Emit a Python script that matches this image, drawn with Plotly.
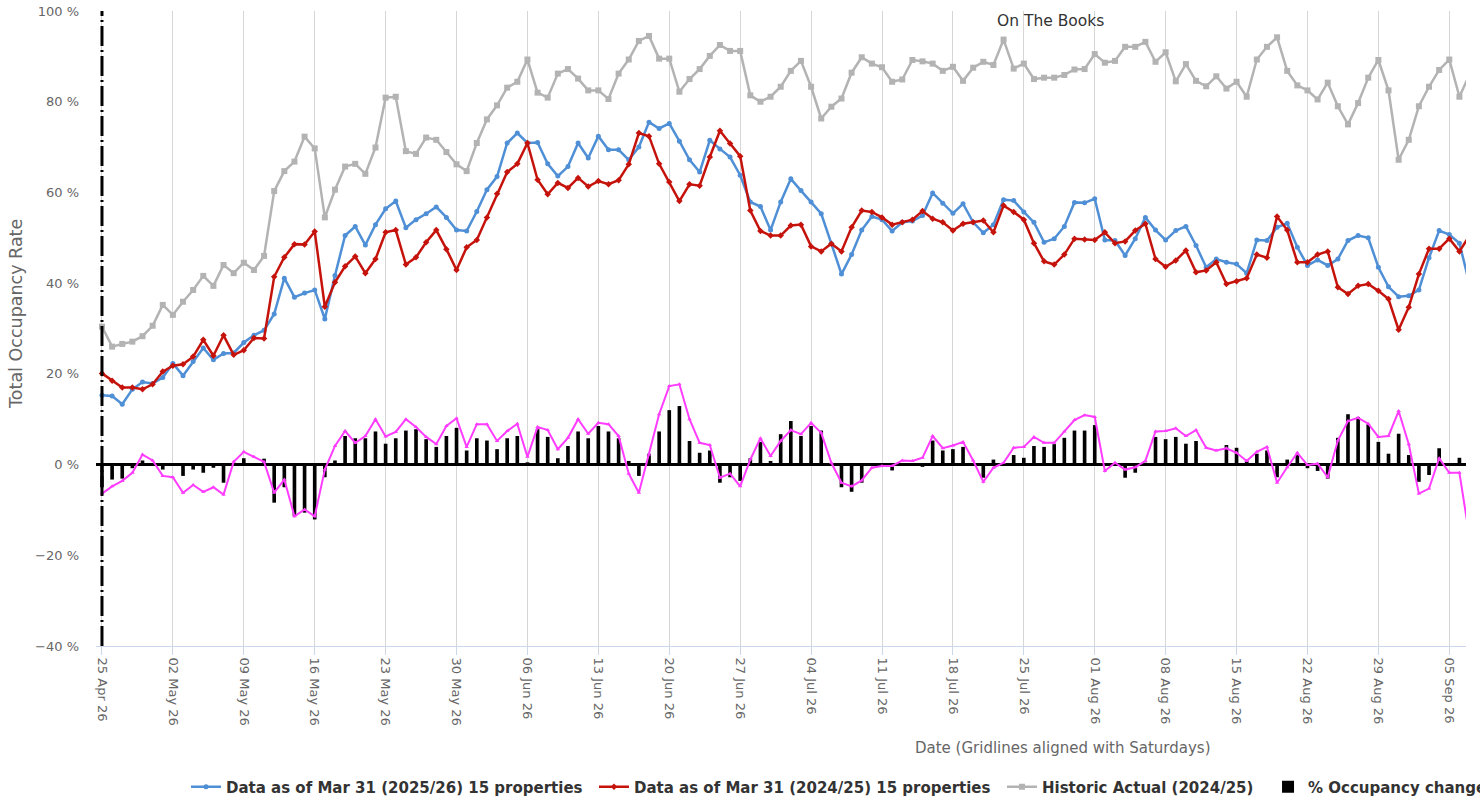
import plotly.graph_objects as go
import pandas as pd

# ---- data ----
start_date = "2026-04-25"
n_days = 136
dates = pd.date_range(start_date, periods=n_days, freq="D")

occ_2025_26 = [
    15.3, 15.1, 13.3, 16.6, 18.2, 17.9, 19.2, 22.3, 19.6, 22.7,
    25.7, 23.1, 24.5, 24.6, 26.9, 28.5, 29.6, 33.2, 41.1, 36.9,
    37.8, 38.5, 32.1, 41.7, 50.5, 52.5, 48.4, 52.9, 56.4, 58.1,
    52.2, 54.0, 55.3, 56.8, 54.5, 51.7, 51.5, 55.8, 60.6, 63.5,
    70.9, 73.1, 70.9, 71.0, 66.3, 63.6, 65.7, 70.9, 67.6, 72.4,
    69.4, 69.4, 67.2, 70.0, 75.5, 74.1, 75.2, 71.3, 67.2, 64.5,
    71.5, 69.6, 67.8, 63.8, 57.9, 56.9, 51.7, 57.9, 63.0, 60.4,
    57.9, 55.3, 48.7, 42.0, 46.3, 51.7, 54.7, 54.0, 51.5, 53.4,
    53.7, 54.9, 59.9, 57.6, 55.4, 57.5, 53.4, 51.1, 52.9, 58.4,
    58.2, 55.7, 53.4, 49.0, 49.8, 52.5, 57.8, 57.7, 58.6, 49.5,
    49.4, 46.1, 49.8, 54.5, 51.7, 49.5, 51.6, 52.5, 48.3, 43.5,
    45.3, 44.6, 44.2, 42.2, 49.5, 49.4, 52.3, 53.2, 47.9, 43.9,
    45.1, 43.9, 45.3, 49.4, 50.5, 50.0, 43.5, 39.2, 37.0, 37.2,
    38.5, 45.6, 51.6, 50.7, 48.8, 39.8,
]

occ_2024_25 = [
    20.1, 18.5, 17.0, 17.0, 16.6, 17.7, 20.5, 21.8, 22.1, 23.8,
    27.5, 24.0, 28.5, 24.2, 25.2, 27.9, 27.8, 41.4, 45.7, 48.6,
    48.5, 51.4, 34.8, 40.2, 43.7, 45.9, 42.2, 45.3, 51.2, 51.7,
    44.1, 45.7, 49.0, 51.7, 47.5, 42.9, 47.9, 49.5, 54.5, 59.7,
    64.5, 66.3, 70.9, 62.8, 59.6, 62.1, 61.0, 63.2, 61.3, 62.5,
    61.8, 62.7, 66.2, 73.1, 72.4, 66.3, 62.3, 58.1, 61.8, 61.5,
    67.8, 73.6, 70.8, 68.0, 56.0, 51.5, 50.5, 50.5, 52.7, 52.9,
    48.1, 47.0, 48.7, 47.0, 52.3, 56.0, 55.7, 54.5, 52.9, 53.4,
    54.0, 55.9, 54.2, 53.4, 51.6, 53.1, 53.4, 53.8, 51.2, 57.1,
    55.7, 54.0, 48.8, 44.8, 44.1, 46.3, 49.8, 49.6, 49.5, 51.2,
    48.8, 49.2, 51.6, 53.1, 45.3, 43.6, 45.0, 47.2, 42.4, 42.8,
    44.6, 39.8, 40.4, 41.1, 46.3, 45.6, 54.7, 51.7, 44.6, 44.6,
    46.3, 47.0, 39.1, 37.6, 39.4, 39.8, 38.3, 36.5, 29.7, 34.7,
    42.0, 47.6, 47.6, 49.8, 47.0, 50.5,
]

historic_2024_25 = [
    30.4, 26.0, 26.6, 27.1, 28.3, 30.6, 35.2, 33.0, 35.9, 38.5,
    41.6, 39.4, 44.0, 42.2, 44.5, 42.9, 46.0, 60.3, 64.7, 66.8,
    72.3, 69.7, 54.5, 60.6, 65.7, 66.3, 64.1, 69.9, 80.9, 81.1,
    69.1, 68.5, 72.1, 71.6, 68.9, 66.2, 64.7, 70.9, 76.1, 79.2,
    83.1, 84.4, 89.3, 82.0, 80.9, 86.2, 87.2, 85.1, 82.5, 82.5,
    80.6, 86.2, 89.3, 93.4, 94.5, 89.5, 89.5, 82.2, 85.0, 87.2,
    90.1, 92.5, 91.2, 91.2, 81.4, 80.0, 81.1, 83.3, 86.8, 89.0,
    83.3, 76.3, 78.9, 80.7, 86.4, 89.8, 88.4, 87.6, 84.4, 84.9,
    89.2, 88.9, 88.4, 86.8, 87.7, 84.6, 87.5, 88.8, 88.1, 93.7,
    87.3, 88.4, 85.0, 85.3, 85.3, 85.9, 87.1, 87.2, 90.5, 88.6,
    89.0, 92.1, 92.1, 93.2, 88.8, 90.9, 84.5, 88.3, 84.6, 83.4,
    85.6, 82.9, 84.4, 81.1, 89.3, 92.1, 94.2, 86.8, 83.6, 82.5,
    80.5, 84.2, 79.0, 75.0, 79.7, 85.3, 89.2, 82.5, 67.2, 71.6,
    79.0, 83.3, 87.0, 89.3, 81.1, 86.0,
]

occ_change_bars = [
    -5.0, -3.3, -3.1, -0.8, 0.9, 0.0, -1.1, 0.0, -2.5, -1.1,
    -1.8, -0.7, -4.0, 0.0, 1.4, 0.0, 1.3, -8.4, -5.0, -11.4,
    -10.6, -12.1, -2.8, 0.9, 6.3, 5.8, 5.8, 7.3, 4.6, 5.8,
    7.5, 7.8, 5.6, 3.9, 6.3, 8.1, 3.1, 5.8, 5.3, 3.4,
    5.8, 6.3, 0.5, 7.8, 6.1, 1.4, 4.1, 7.3, 5.8, 8.5,
    7.3, 5.8, 0.8, -2.5, 2.4, 7.3, 12.0, 12.9, 5.2, 2.6,
    3.1, -4.0, -2.8, -3.6, 1.4, 5.0, 0.8, 6.7, 9.6, 6.3,
    8.5, 7.5, 0.0, -5.0, -6.0, -4.0, -0.3, 0.0, -1.3, 0.0,
    0.0, -0.5, 5.3, 3.1, 3.4, 3.9, 0.0, -2.9, 1.1, 0.0,
    2.1, 1.5, 4.1, 3.9, 4.5, 5.9, 7.5, 7.5, 8.7, -0.3,
    0.0, -2.9, -1.8, 0.4, 6.1, 5.6, 6.1, 4.6, 5.2, 0.0,
    0.2, 4.3, 3.7, 0.9, 2.4, 3.1, -2.8, 1.1, 2.1, -0.8,
    -1.4, -3.1, 5.9, 11.1, 10.5, 8.9, 5.0, 2.4, 6.8, 2.1,
    -3.8, -2.3, 3.6, -0.3, 1.5, 0.0,
]

occ_change_line = [
    -6.4, -4.8, -3.6, -1.8, 2.2, 0.9, -2.5, -2.8, -6.2, -4.5,
    -6.0, -5.0, -6.6, 0.6, 2.8, 1.7, 0.6, -6.2, -3.3, -11.4,
    -9.9, -11.4, -1.1, 4.1, 7.4, 4.8, 6.3, 10.0, 6.2, 7.2,
    10.0, 8.3, 6.1, 4.5, 8.5, 10.2, 3.9, 8.9, 8.9, 5.2,
    7.4, 9.0, 1.7, 8.3, 7.6, 3.4, 5.9, 10.0, 6.8, 9.2,
    8.9, 6.3, -2.0, -6.2, 2.2, 11.1, 17.3, 17.7, 10.0, 4.8,
    4.3, -2.9, -2.0, -4.8, 1.1, 5.8, 1.9, 5.2, 7.6, 6.7,
    9.2, 7.0, 0.4, -4.0, -4.8, -3.5, -0.7, -0.3, -0.3, 0.9,
    0.8, 1.5, 6.3, 3.6, 4.2, 5.0, 0.9, -3.8, -0.7, 0.4,
    3.7, 3.9, 6.1, 4.8, 4.8, 7.3, 9.8, 10.9, 10.5, -1.4,
    0.4, -1.1, -0.6, 0.8, 7.3, 7.4, 8.0, 6.3, 7.6, 3.7,
    3.1, 3.6, 2.6, 0.8, 2.8, 3.9, -4.0, -0.6, 2.6, -0.1,
    0.2, -2.8, 5.3, 9.6, 10.3, 9.0, 6.1, 6.3, 11.8, 4.5,
    -6.4, -5.3, 1.4, -1.8, -1.8, -16.0,
]

series_names = [
    "Data as of Mar 31 (2025/26) 15 properties",
    "Data as of Mar 31 (2024/25) 15 properties",
    "Historic Actual (2024/25)",
    "% Occupancy change",
]
chart_title = "On The Books"
x_title = "Date (Gridlines aligned with Saturdays)"
y_title = "Total Occupancy Rate"

# ---- styling ----
BLUE = "#4f8fd6"
RED = "#c5130c"
GREY = "#b3b3b3"
MAGENTA = "#ff3cff"
DAY_MS = 86400000
FONT = "DejaVu Sans"

fig = go.Figure()

fig.add_trace(go.Scatter(
    x=dates, y=occ_2025_26, name=series_names[0], mode="lines+markers",
    line=dict(color=BLUE, width=2.5), marker=dict(symbol="circle", size=5, color=BLUE),
    legend="legend",
))
fig.add_trace(go.Scatter(
    x=dates, y=occ_2024_25, name=series_names[1], mode="lines+markers",
    line=dict(color=RED, width=2.5), marker=dict(symbol="diamond", size=5, color=RED),
    legend="legend2",
))
fig.add_trace(go.Scatter(
    x=dates, y=historic_2024_25, name=series_names[2], mode="lines+markers",
    line=dict(color=GREY, width=2.5), marker=dict(symbol="square", size=6, color=GREY),
    legend="legend3",
))
fig.add_trace(go.Bar(
    x=dates, y=occ_change_bars, name=series_names[3],
    marker=dict(color="black", line=dict(width=0)), width=0.36 * DAY_MS,
    legend="legend4",
))
fig.add_trace(go.Scatter(
    x=dates, y=occ_change_line, name="% Occupancy change (line)", mode="lines+markers",
    line=dict(color=MAGENTA, width=2), marker=dict(symbol="triangle-up", size=4, color=MAGENTA),
    showlegend=False,
))

x0 = pd.Timestamp(start_date)
x_range = [x0 - pd.Timedelta(days=0.59), x0 + pd.Timedelta(days=134.65)]

legend_common = dict(
    orientation="h", xanchor="left", yanchor="middle", y=-0.222,
    font=dict(family=FONT, size=15, color="#333333", weight="bold"),
    bgcolor="rgba(0,0,0,0)", borderwidth=0,
)

fig.update_layout(
    width=1480, height=798,
    margin=dict(l=96, r=14, t=11, b=152, autoexpand=False),
    paper_bgcolor="white", plot_bgcolor="white",
    barmode="overlay",
    showlegend=True,
    legend=dict(x=0.0657, **legend_common),
    legend2=dict(x=0.3635, **legend_common),
    legend3=dict(x=0.6613, **legend_common),
    legend4=dict(x=0.8555, **legend_common),
    xaxis=dict(
        type="date", range=x_range,
        tick0=start_date, dtick=7 * DAY_MS, tickformat="%d %b %y",
        tickangle=90, tickfont=dict(family=FONT, size=13, color="#666666"),
        showgrid=True, gridcolor="#d6d6d6", gridwidth=1,
        ticks="outside", ticklen=8, tickcolor="#ccd6eb",
        showline=True, linecolor="#ccd6eb", linewidth=1,
        zeroline=False,
    ),
    yaxis=dict(
        range=[-40, 100], dtick=20, ticksuffix=" %",
        tickfont=dict(family=FONT, size=13, color="#666666"),
        showgrid=False, zeroline=True, zerolinecolor="black", zerolinewidth=2.5,
        showline=False, ticks="", ticklabelstandoff=16,
    ),
    shapes=[dict(
        type="line", xref="x", yref="paper", x0=x0, x1=x0, y0=0, y1=1,
        line=dict(color="black", width=3, dash="20px,4px,2px,4px"), layer="above",
    )],
    annotations=[
        dict(text=chart_title, xref="paper", yref="paper", x=0.697, y=0.984,
             xanchor="center", yanchor="middle", showarrow=False,
             font=dict(family=FONT, size=15.5, color="#333333")),
        dict(text=x_title, xref="paper", yref="paper", x=0.706, y=-0.1606,
             xanchor="center", yanchor="middle", showarrow=False,
             font=dict(family=FONT, size=15, color="#666666")),
        dict(text=y_title, xref="paper", yref="paper", x=-0.0584, y=0.523,
             xanchor="center", yanchor="middle", showarrow=False, textangle=-90,
             font=dict(family=FONT, size=17.5, color="#666666")),
    ],
)

fig.write_html(
    "out.html",
    config={"displayModeBar": False},
    post_script="document.body.style.margin='0';document.body.style.padding='0';",
)
